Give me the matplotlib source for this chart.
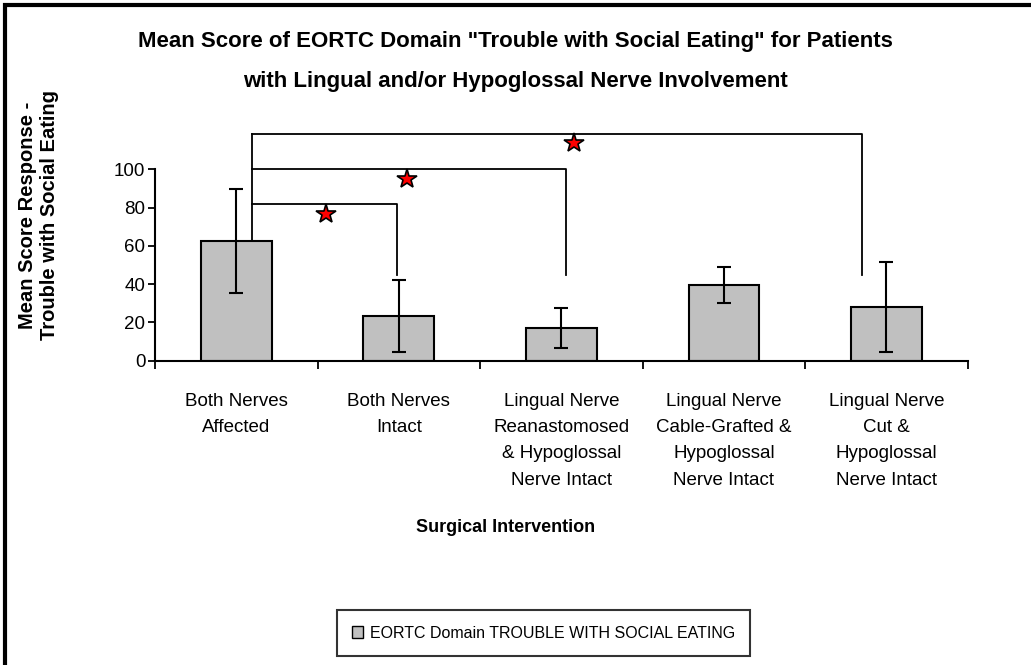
"""
Mean EORTC 'Trouble with Social Eating' score by surgical intervention.
"""
import matplotlib.pyplot as plt
from matplotlib.patches import Rectangle

# Bar categories, means and half-widths of the error bars.
CATEGORIES = [
    "Both Nerves\nAffected",
    "Both Nerves\nIntact",
    "Lingual Nerve\nReanastomosed\n& Hypoglossal\nNerve Intact",
    "Lingual Nerve\nCable-Grafted &\nHypoglossal\nNerve Intact",
    "Lingual Nerve\nCut &\nHypoglossal\nNerve Intact",
]
MEANS = [62.7, 23.4, 17.1, 39.4, 28.1]
ERRORS = [27.2, 18.6, 10.4, 9.3, 23.5]

Y_TICKS = [0, 20, 40, 60, 80, 100]

# Significance brackets from the first bar: bracket height, right end, star position.
BRACKET_LEVELS = [81.9, 100.2, 118.5]
BRACKET_ENDS = [0.99, 2.03, 3.85]
BRACKET_DROP = 44.8
STAR_X = [0.55, 1.05, 2.08]
STAR_Y = [76.5, 94.8, 113.6]

LEGEND_LABEL = "EORTC Domain TROUBLE WITH SOCIAL EATING"

plt.rcParams["font.family"] = ["Liberation Sans", "DejaVu Sans"]

W, H = 1031, 665
fig = plt.figure(figsize=(W / 100, H / 100), dpi=100)
ax = fig.add_axes([155 / W, 1 - 360.7 / H, (967.7 - 155) / W, (360.7 - 169.3) / H])

x = list(range(len(CATEGORIES)))
ax.bar(x, MEANS, width=0.435, color="#C0C0C0", edgecolor="black", linewidth=1.5,
       label=LEGEND_LABEL, zorder=2)
ax.errorbar(x, MEANS, yerr=ERRORS, fmt="none", ecolor="black", elinewidth=1.5,
            capsize=5, capthick=1.5, zorder=3)

ax.set_xlim(-0.5, len(CATEGORIES) - 0.5)
ax.set_ylim(0, 100)
ax.set_yticks(Y_TICKS)
ax.set_xticks(x)
ax.set_xticklabels(CATEGORIES, fontsize=13.5, linespacing=1.72, va="top")
ax.set_xticks([i - 0.5 for i in range(len(CATEGORIES) + 1)], minor=True)
ax.tick_params(axis="x", which="major", length=0, pad=23)
ax.tick_params(axis="x", which="minor", length=6, width=1.3, direction="out")
ax.tick_params(axis="y", length=5, width=1.3, labelsize=13.5, pad=2)
for side in ("top", "right"):
    ax.spines[side].set_visible(False)
for side in ("left", "bottom"):
    ax.spines[side].set_linewidth(1.5)

# brackets
left_x = 0.097
ax.plot([left_x, left_x], [MEANS[0], max(BRACKET_LEVELS)], color="black", lw=1.3,
        clip_on=False, zorder=1)
for level, end in zip(BRACKET_LEVELS, BRACKET_ENDS):
    ax.plot([left_x, end, end], [level, level, BRACKET_DROP], color="black", lw=1.3,
            clip_on=False, zorder=1)
ax.plot(STAR_X, STAR_Y, linestyle="none", marker="*", markersize=15,
        markerfacecolor="red", markeredgecolor="black", markeredgewidth=1.2,
        clip_on=False, zorder=4)

fig.text(515 / W, 1 - 42 / H, 'Mean Score of EORTC Domain "Trouble with Social Eating" for Patients',
         ha="center", va="center", fontsize=16, fontweight="bold")
fig.text(515 / W, 1 - 82 / H, "with Lingual and/or Hypoglossal Nerve Involvement",
         ha="center", va="center", fontsize=16, fontweight="bold")
fig.text(28 / W, 1 - 215 / H, "Mean Score Response -", rotation=90,
         ha="center", va="center", fontsize=14.5, fontweight="bold")
fig.text(50 / W, 1 - 215 / H, "Trouble with Social Eating", rotation=90,
         ha="center", va="center", fontsize=14.5, fontweight="bold")
fig.text(506 / W, 1 - 528 / H, "Surgical Intervention", ha="center", va="center",
         fontsize=13, fontweight="bold")

leg = fig.legend(loc="center", bbox_to_anchor=(543.5 / W, 1 - 633 / H), fontsize=11.5,
                 fancybox=False, edgecolor="black", handlelength=0.7, handleheight=0.7,
                 handletextpad=0.4, borderpad=0.95, borderaxespad=0)
leg.get_frame().set_linewidth(1.5)
for patch in leg.get_patches():
    patch.set_linewidth(1.0)

fig.add_artist(Rectangle((5 / W, -0.1), 1.2, 1 - 5 / H + 0.1, transform=fig.transFigure,
                         fill=False, edgecolor="black", linewidth=3))

fig.savefig("out.png", dpi=100)
